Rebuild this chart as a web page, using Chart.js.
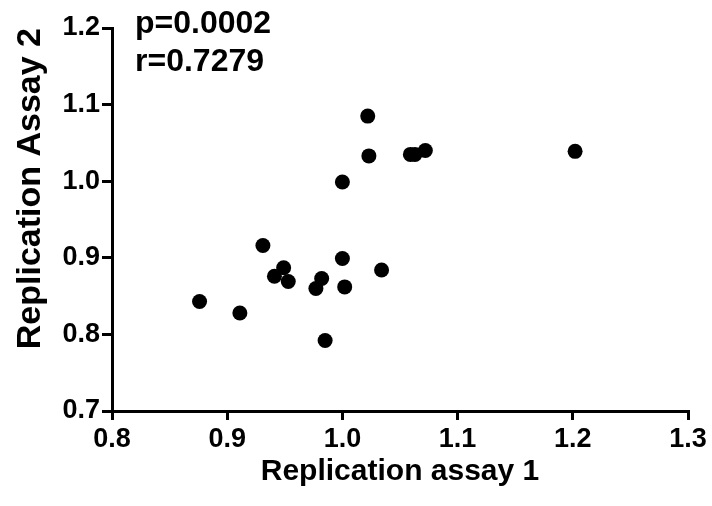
<!DOCTYPE html>
<html>
<head>
<meta charset="utf-8">
<script src="https://cdn.jsdelivr.net/npm/chart.js@4"></script>
<style>
  html, body { margin: 0; padding: 0; background: #fff; }
  #wrap { width: 712px; height: 506px; }
</style>
</head>
<body>
<div id="wrap"><canvas id="plot" width="712" height="506"></canvas></div>
<script>
// values
const assay1 = [0.876, 0.911, 0.931, 0.941, 0.949, 0.953, 0.977, 0.982, 0.985, 1.000,
                1.002, 1.034, 1.000, 1.023, 1.022, 1.059, 1.063, 1.072, 1.202];
const assay2 = [0.843, 0.828, 0.916, 0.876, 0.887, 0.869, 0.860, 0.873, 0.792, 0.899,
                0.862, 0.884, 0.999, 1.033, 1.085, 1.035, 1.035, 1.040, 1.039];
const statsLines = ["p=0.0002", "r=0.7279"];
const xTitle = "Replication assay 1";
const yTitle = "Replication Assay 2";

const points = assay1.map((x, i) => ({ x: x, y: assay2[i] }));

const FONT = "'Liberation Sans', Arial, sans-serif";

// stats text in the upper left of the plot
const statsText = {
  id: "statsText",
  afterDraw(chart) {
    const ctx = chart.ctx;
    const area = chart.chartArea;
    ctx.save();
    ctx.fillStyle = "#000";
    ctx.font = "bold 32px " + FONT;
    ctx.textBaseline = "alphabetic";
    statsLines.forEach((t, i) => {
      ctx.fillText(t, area.left + 23, area.top + 5 + i * 38);
    });
    ctx.restore();
  },
};

const config = {
  type: "scatter",
  data: {
    datasets: [
      {
        label: "Replication",
        data: points,
        backgroundColor: "#000",
        borderColor: "#000",
        pointRadius: 7.5,
        pointHoverRadius: 7.5,
        borderWidth: 0,
      },
    ],
  },
  options: {
    responsive: false,
    animation: false,
    layout: { padding: { top: 28, right: 24, left: 0, bottom: 0 } },
    plugins: {
      legend: { display: false },
      tooltip: { enabled: false },
    },
    scales: {
      x: {
        type: "linear",
        min: 0.8,
        max: 1.3,
        afterFit: (s) => { s.height = 95; },
        border: { color: "#000", width: 3 },
        grid: { drawOnChartArea: false, drawTicks: true, tickLength: 9, color: "#000", lineWidth: 3 },
        ticks: {
          stepSize: 0.1,
          color: "#000",
          padding: 3,
          font: { family: FONT, size: 27, weight: "bold" },
          callback: (v) => v.toFixed(1),
        },
        title: {
          display: true,
          text: xTitle,
          color: "#000",
          padding: { top: 0, bottom: 16 },
          font: { family: FONT, size: 30, weight: "bold" },
        },
      },
      y: {
        type: "linear",
        min: 0.7,
        max: 1.2,
        afterFit: (s) => { s.width = 112; },
        border: { color: "#000", width: 3 },
        grid: { drawOnChartArea: false, drawTicks: true, tickLength: 10, color: "#000", lineWidth: 3 },
        ticks: {
          stepSize: 0.1,
          color: "#000",
          padding: 2,
          font: { family: FONT, size: 27, weight: "bold" },
          callback: (v) => v.toFixed(1),
        },
        title: {
          display: true,
          text: yTitle,
          align: "end",
          color: "#000",
          padding: { top: 10, bottom: 0 },
          font: { family: FONT, size: 34, weight: "bold" },
        },
      },
    },
  },
  plugins: [statsText],
};

new Chart(document.getElementById("plot"), config);
</script>
</body>
</html>
